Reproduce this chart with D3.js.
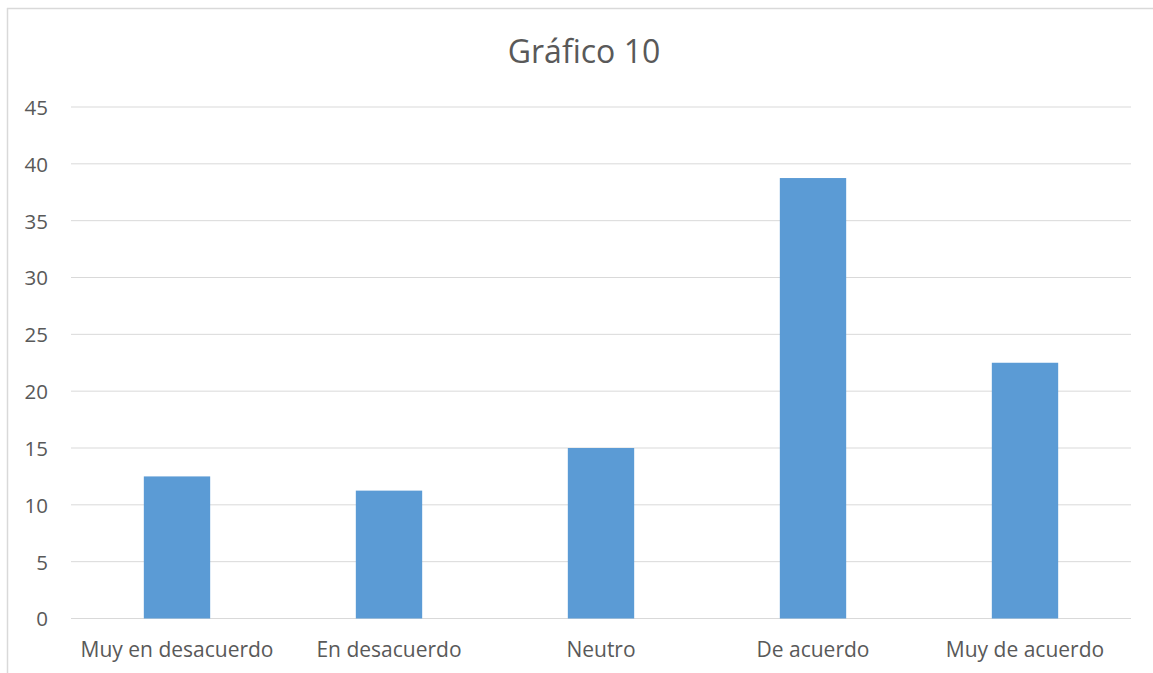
<!DOCTYPE html>
<html>
<head>
<meta charset="utf-8">
<script src="https://cdn.jsdelivr.net/npm/d3@7"></script>
<style>
  html, body { margin: 0; padding: 0; background: #fff; }
  svg { display: block; }
  text { font-family: "Open Sans", "Noto Sans", sans-serif; fill: #595959; }
</style>
</head>
<body>
<script>
// Chart data
const categories = ["Muy en desacuerdo", "En desacuerdo", "Neutro", "De acuerdo", "Muy de acuerdo"];
const values = [12.5, 11.25, 15, 38.75, 22.5];
const yTicks = [0, 5, 10, 15, 20, 25, 30, 35, 40, 45];
const title = "Gráfico 10";

const W = 1153, H = 673;
const plot = { left: 71, right: 1131, top: 107, bottom: 618.5 };

const svg = d3.select("body").append("svg")
  .attr("width", W).attr("height", H);

// Chart area frame (left and top edges visible)
svg.append("line").attr("x1", 7.5).attr("x2", 7.5).attr("y1", 8).attr("y2", H)
  .attr("stroke", "#d9d9d9").attr("stroke-width", 1.5);
svg.append("line").attr("x1", 7).attr("x2", W).attr("y1", 8.5).attr("y2", 8.5)
  .attr("stroke", "#d9d9d9").attr("stroke-width", 1.5);

const x = d3.scaleBand()
  .domain(categories)
  .range([plot.left, plot.right])
  .paddingInner(0.687)
  .paddingOuter(0.687 / 2);

const y = d3.scaleLinear()
  .domain([0, 45])
  .range([plot.bottom, plot.top]);

// Horizontal gridlines
svg.append("g")
  .selectAll("line")
  .data(yTicks)
  .join("line")
  .attr("x1", plot.left).attr("x2", plot.right)
  .attr("y1", d => y(d)).attr("y2", d => y(d))
  .attr("stroke", "#d9d9d9").attr("stroke-width", 1);

// Y axis labels
const yAxis = d3.axisLeft(y).tickValues(yTicks).tickSize(0).tickPadding(0);
const gy = svg.append("g").attr("transform", "translate(48,0)").call(yAxis);
gy.select(".domain").remove();
gy.selectAll("text")
  .attr("font-size", 20.5)
  .attr("dy", "0.36em")
  .style("font-family", "\"Open Sans\", sans-serif")
  .attr("fill", "#595959");

// Bars
svg.append("g")
  .selectAll("rect")
  .data(values)
  .join("rect")
  .attr("x", (d, i) => x(categories[i]))
  .attr("width", x.bandwidth())
  .attr("y", d => y(d))
  .attr("height", d => y(0) - y(d))
  .attr("fill", "#5b9bd5");

// Category labels
const xAxis = d3.axisBottom(x).tickSize(0).tickPadding(0);
const gx = svg.append("g").attr("transform", "translate(0,657)").call(xAxis);
gx.select(".domain").remove();
gx.selectAll("text")
  .attr("dy", 0)
  .attr("font-size", 21)
  .style("font-family", "\"Open Sans\", sans-serif")
  .attr("fill", "#595959");

// Title
svg.append("text")
  .attr("x", 584).attr("y", 63)
  .attr("text-anchor", "middle")
  .attr("font-size", 32)
  .text(title);
</script>
</body>
</html>
